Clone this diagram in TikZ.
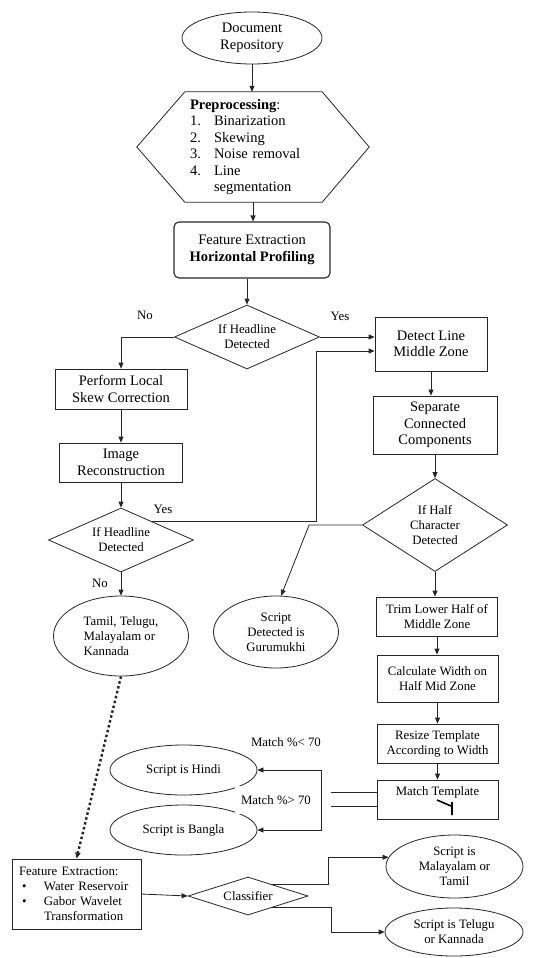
\documentclass[tikz,border=0pt]{standalone}
\usepackage{fontspec}
\setmainfont{Liberation Serif}
\usetikzlibrary{shapes.geometric,arrows.meta,calc}

\begin{document}
\begin{tikzpicture}[x=1pt,y=-1pt,
    flowline/.style={line width=0.8pt,draw=black!85},
    arr/.style={flowline,-{Triangle[length=6pt,width=5pt]}},
    bigtxt/.style={font=\fontsize{14.5}{16.5}\selectfont},
    smalltxt/.style={font=\fontsize{12.8}{15}\selectfont},
    procbox/.style={rectangle,flowline,inner sep=0pt,align=center},
    decision/.style={diamond,flowline,inner sep=0pt,align=center,smalltxt},
    terminal/.style={ellipse,flowline,inner sep=0pt,align=center},
    lbl/.style={smalltxt,inner sep=1pt}]
\useasboundingbox (0,0) rectangle (533,958);

% top of the chart
\node[terminal,bigtxt,minimum width=140pt,minimum height=52pt] (doc) at (252,38) {Document\\Repository};
\node[bigtxt,minimum width=232pt,minimum height=110pt,text width=126pt,align=left,inner sep=0pt] (prep) at (253,147)
    {\textbf{Preprocessing}:\\
     \makebox[24pt][l]{1.}Binarization\\
     \makebox[24pt][l]{2.}Skewing\\
     \makebox[24pt][l]{3.}Noise removal\\
     \makebox[24pt][l]{4.}Line\\
     \hspace*{24pt}segmentation};
\draw[flowline] ($(prep.north west)+(48,0)$) -- ($(prep.north east)+(-47,0)$) -- (prep.east)
    -- ($(prep.south east)+(-47,0)$) -- ($(prep.south west)+(48,0)$) -- (prep.west) -- cycle;
\node[procbox,bigtxt,rounded corners=5pt,line width=1.1pt,minimum width=156pt,minimum height=56pt] (fe) at (252,250)
    {Feature Extraction\\\textbf{Horizontal Profiling}};
\node[decision,aspect=2.27,minimum width=145pt,minimum height=64pt] (hl1) at (247,337) {If Headline\\Detected};

% left branch
\node[procbox,bigtxt,minimum width=132pt,minimum height=40pt] (perf) at (121,389) {Perform Local\\Skew Correction};
\node[procbox,bigtxt,minimum width=123pt,minimum height=39pt] (img) at (121,462.5) {Image\\Reconstruction};
\node[decision,aspect=2.27,minimum width=145pt,minimum height=64pt] (hl2) at (121,540) {If Headline\\Detected};
\node[terminal,smalltxt,align=left,minimum width=135pt,minimum height=80pt] (tamil) at (121,636)
    {Tamil, Telugu,\\Malayalam or\\Kannada};

% right branch
\node[procbox,bigtxt,minimum width=112pt,minimum height=54pt] (detect) at (431,344) {Detect Line\\Middle Zone};
\node[procbox,bigtxt,minimum width=124pt,minimum height=58pt] (sep) at (435,425) {Separate\\Connected\\Components};
\node[decision,aspect=1.56,minimum width=145pt,minimum height=93pt] (half) at (435,525) {If Half\\Character\\Detected};
\node[terminal,smalltxt,minimum width=125pt,minimum height=72pt] (guru) at (276,632) {Script\\Detected is\\Gurumukhi};
\node[procbox,smalltxt,minimum width=121pt,minimum height=39pt] (trim) at (437,616.5) {Trim Lower Half of\\Middle Zone};
\node[procbox,smalltxt,minimum width=121pt,minimum height=47pt] (calc) at (437.5,678.5) {Calculate Width on\\Half Mid Zone};
\node[procbox,smalltxt,minimum width=121pt,minimum height=39pt] (resize) at (437.5,743.5) {Resize Template\\According to Width};
\node[procbox,smalltxt,minimum width=121pt,minimum height=39pt,text depth=16pt] (match) at (437.5,799.5) {Match Template};
\node[terminal,smalltxt,minimum width=147pt,minimum height=50pt] (hindi) at (183.5,770) {Script is Hindi};
\node[terminal,smalltxt,minimum width=147pt,minimum height=50pt] (bangla) at (183.5,830) {Script is Bangla};

% bottom row
\node[procbox,smalltxt,align=left,text width=115pt,minimum width=129pt,minimum height=70pt] (fe2) at (76.5,894)
    {Feature Extraction:\\
     \hspace*{3pt}\makebox[22pt][l]{\textbullet}Water Reservoir\\
     \hspace*{3pt}\makebox[22pt][l]{\textbullet}Gabor Wavelet\\
     \hspace*{25pt}Transformation};
\node[decision,aspect=3.2,minimum width=120pt,minimum height=38pt] (cls) at (248,896) {Classifier};
\node[terminal,smalltxt,minimum width=137pt,minimum height=63pt] (mal) at (454.5,866.5) {Script is\\Malayalam or\\Tamil};
\node[terminal,smalltxt,minimum width=138pt,minimum height=48pt] (tel) at (454,932) {Script is Telugu\\or Kannada};

% connectors
\draw[arr] (doc.south) -- (doc.south |- prep.north);
\draw[arr] (prep.south) -- (prep.south |- fe.north);
\draw[arr] (fe.south -| hl1.north) -- (hl1.north);
\draw[arr] (hl1.west) -| (perf.north);
\draw[arr] (hl1.east) -- (hl1.east -| detect.west);
\draw[arr] (perf.south) -- (img.north);
\draw[arr] (img.south) -- (hl2.north);
\draw[arr] ($(hl2.north)!0.42!(hl2.east)$) -| ($(detect.west)+(-58,7)$) -- ($(detect.west)+(0,7)$);
\draw[arr] (hl2.south) -- (tamil.north);
\draw[arr,line width=2.4pt,dash pattern=on 2.5pt off 2.5pt] (tamil.south) -- (fe2.north);
\draw[arr] (detect.south) -- (detect.south |- sep.north);
\draw[arr] (sep.south -| half.north) -- (half.north);
\draw[arr] (half.west) -- ++(-53,0) -- (guru.82);
\draw[arr] (half.south) -- (half.south |- trim.north);
\draw[arr] (trim.south) -- (trim.south |- calc.north);
\draw[arr] (calc.south) -- (calc.south |- resize.north);
\draw[arr] (resize.south) -- (resize.south |- match.north);
\draw[flowline] ($(match.west)+(0,-7.5)$) -- ++(-46,0);
\draw[flowline] ($(match.west)+(0,6.5)$) -- ++(-46,0);
\coordinate (split) at (321,800);
\draw[arr] (split) |- (hindi.east);
\draw[arr] (split) |- (bangla.east);
\draw[line width=1.6pt] (437,800) -- (451,806) (452,802) -- (452,815);
\draw[arr] (fe2.east) -- (cls.west);
\draw[arr] ($(cls.north)!0.4!(cls.east)$) -- ++(56,0) |- (mal.172);
\draw[arr] ($(cls.south)!0.4!(cls.east)$) -- ++(59,0) |- (tel.west);

% labels
\node[lbl] (no1) at (145,315) {No};
\node[lbl] (yes1) at (340,316) {Yes};
\node[lbl] (yes2) at (163,509) {Yes};
\node[lbl] (no2) at (100,583) {No};
\node[lbl] (lt70) at (286,742) {Match \%< 70};
\node[lbl,fill=white,inner xsep=6pt,minimum height=28pt] (gt70) at (276,800) {Match \%> 70};
\end{tikzpicture}
\end{document}
